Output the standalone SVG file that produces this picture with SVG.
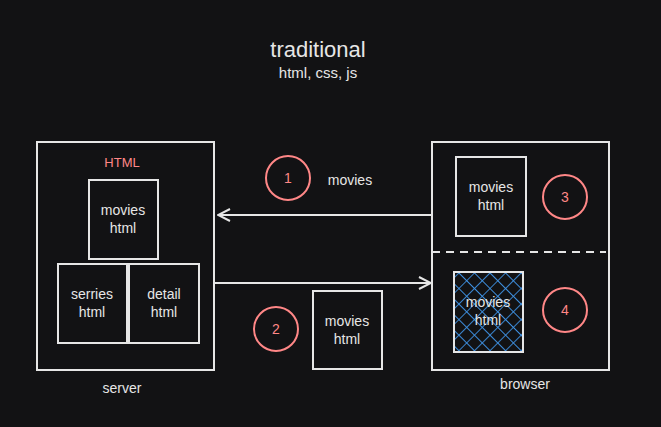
<svg xmlns="http://www.w3.org/2000/svg" width="661" height="427" viewBox="0 0 661 427">
<defs>
<style>
.box{fill:none;stroke:#e6e6e6;stroke-width:2}
.circ{fill:none;stroke:#ff8787;stroke-width:2}
.t{font-family:"Liberation Sans",Arial,sans-serif;fill:#e6e6e6;font-size:14px;text-anchor:middle}
.r{fill:#ff8787}
.line{stroke:#e6e6e6;stroke-width:2;fill:none}
</style>
<pattern id="hatch" patternUnits="userSpaceOnUse" width="11" height="11" patternTransform="rotate(45)">
<path d="M0 0V11M0 0H11" stroke="#3d8fe0" stroke-width="1.8" fill="none"/>
</pattern>
<marker id="ah" viewBox="0 0 14 14" refX="13" refY="7" markerWidth="14" markerHeight="14" markerUnits="userSpaceOnUse" orient="auto">
<path d="M1 1L13 7L1 13" fill="none" stroke="#e6e6e6" stroke-width="2"/>
</marker>
</defs>
<rect width="661" height="427" fill="#121214"/>
<g id="title">
<text class="t" x="318" y="57" style="font-size:22px">traditional</text>
<text class="t" x="318" y="78" style="font-size:15px">html, css, js</text>
</g>
<g id="server">
<rect class="box" x="37" y="142" width="177" height="228"/>
<text class="t r" x="122" y="167" style="font-size:13px">HTML</text>
<text class="t" x="122" y="393">server</text>
</g>
<g id="server-movies">
<rect class="box" x="89" y="180" width="69" height="79"/>
<text class="t" x="123" y="215">movies</text>
<text class="t" x="123" y="233">html</text>
</g>
<g id="server-serries">
<rect class="box" x="58" y="264" width="69" height="79"/>
<text class="t" x="92" y="299">serries</text>
<text class="t" x="92" y="317">html</text>
</g>
<g id="server-detail">
<rect class="box" x="129" y="264" width="70" height="79"/>
<text class="t" x="164" y="299">detail</text>
<text class="t" x="164" y="317">html</text>
</g>
<g id="browser">
<rect class="box" x="432" y="142" width="177" height="228"/>
<line x1="432" y1="252" x2="606" y2="252" stroke="#e6e6e6" stroke-width="2" stroke-dasharray="8 6"/>
<text class="t" x="525" y="389">browser</text>
</g>
<g id="browser-movies">
<rect class="box" x="456" y="157" width="70" height="79"/>
<text class="t" x="491" y="192">movies</text>
<text class="t" x="491" y="210">html</text>
</g>
<g id="browser-movies-hatched">
<rect x="454" y="272" width="69" height="80" fill="url(#hatch)"/>
<rect class="box" x="454" y="272" width="69" height="80"/>
<text class="t" x="488" y="307">movies</text>
<text class="t" x="488" y="325">html</text>
</g>
<g id="transfer-movies">
<rect class="box" x="313" y="291" width="69" height="78"/>
<text class="t" x="347" y="326">movies</text>
<text class="t" x="347" y="344">html</text>
</g>
<g id="step1">
<circle class="circ" cx="288" cy="178" r="22"/>
<text class="t r" x="288" y="183">1</text>
<text class="t" x="350" y="185">movies</text>
</g>
<g id="step2">
<circle class="circ" cx="276" cy="329" r="22"/>
<text class="t r" x="276" y="334">2</text>
</g>
<g id="step3">
<circle class="circ" cx="565" cy="197" r="22"/>
<text class="t r" x="565" y="202">3</text>
</g>
<g id="step4">
<circle class="circ" cx="565" cy="310" r="22"/>
<text class="t r" x="565" y="315">4</text>
</g>
<g id="connectors">
<line class="line" x1="431" y1="215" x2="218" y2="215" marker-end="url(#ah)"/>
<line class="line" x1="214" y1="283" x2="431" y2="283" marker-end="url(#ah)"/>
</g>
</svg>
